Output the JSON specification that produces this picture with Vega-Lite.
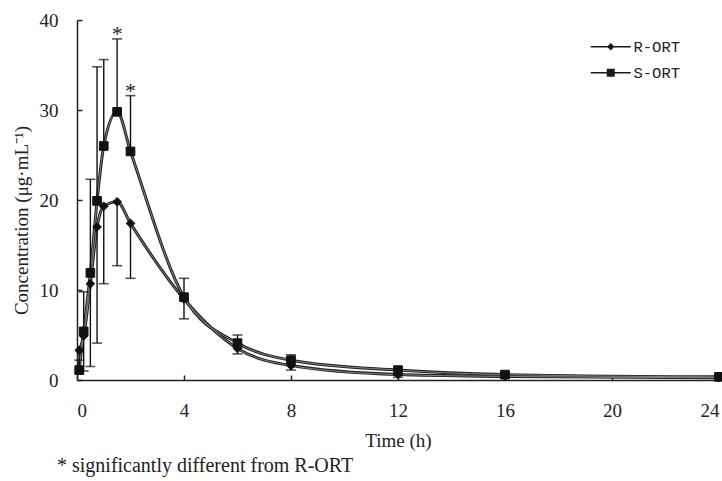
{
  "$schema": "https://vega.github.io/schema/vega-lite/v6.json",
  "width": 642,
  "height": 360,
  "autosize": "none",
  "padding": {"left": 77, "top": 20, "right": 3, "bottom": 101},
  "background": "white",
  "title": {
    "text": "* significantly different from R-ORT",
    "orient": "bottom",
    "anchor": "start",
    "frame": "group",
    "dx": -20,
    "offset": 6,
    "font": "Liberation Serif",
    "fontSize": 20,
    "fontWeight": "normal",
    "color": "#222"
  },
  "config": {
    "view": {"stroke": null},
    "axis": {
      "grid": false,
      "domainColor": "#222",
      "domainWidth": 1.5,
      "tickColor": "#222",
      "tickWidth": 1.5,
      "tickSize": -5,
      "labelFont": "Liberation Serif",
      "labelFontSize": 19,
      "labelColor": "#222",
      "titleFont": "Liberation Serif",
      "titleFontSize": 19,
      "titleFontWeight": "normal",
      "titleColor": "#222"
    }
  },
  "resolve": {"scale": {"shape": "independent"}, "legend": {"shape": "independent"}},
  "data": {
    "values": [
      {"time": 0.083, "drug": "R-ORT", "mean": 3.3, "lo": 0.8, "hi": 3.3, "cap": 0.8, "sig": ""},
      {"time": 0.25, "drug": "R-ORT", "mean": 4.9, "lo": 1.0, "hi": 4.9, "cap": 1.0, "sig": ""},
      {"time": 0.5, "drug": "R-ORT", "mean": 10.7, "lo": 1.5, "hi": 10.7, "cap": 1.5, "sig": ""},
      {"time": 0.75, "drug": "R-ORT", "mean": 17.0, "lo": 4.1, "hi": 17.0, "cap": 4.1, "sig": ""},
      {"time": 1, "drug": "R-ORT", "mean": 19.3, "lo": 10.7, "hi": 19.3, "cap": 10.7, "sig": ""},
      {"time": 1.5, "drug": "R-ORT", "mean": 19.8, "lo": 12.7, "hi": 19.8, "cap": 12.7, "sig": ""},
      {"time": 2, "drug": "R-ORT", "mean": 17.4, "lo": 11.3, "hi": 17.4, "cap": 11.3, "sig": ""},
      {"time": 4, "drug": "R-ORT", "mean": 9.0, "lo": 6.8, "hi": 9.0, "cap": 6.8, "sig": ""},
      {"time": 6, "drug": "R-ORT", "mean": 3.5, "lo": 2.9, "hi": 3.5, "cap": 2.9, "sig": ""},
      {"time": 8, "drug": "R-ORT", "mean": 1.6, "lo": 1.1, "hi": 1.6, "cap": 1.1, "sig": ""},
      {"time": 12, "drug": "R-ORT", "mean": 0.6, "lo": 0.3, "hi": 0.6, "cap": 0.3, "sig": ""},
      {"time": 16, "drug": "R-ORT", "mean": 0.4, "lo": 0.2, "hi": 0.4, "cap": 0.2, "sig": ""},
      {"time": 24, "drug": "R-ORT", "mean": 0.25, "lo": 0.1, "hi": 0.25, "cap": 0.1, "sig": ""},
      {"time": 0.083, "drug": "S-ORT", "mean": 1.1, "lo": 1.1, "hi": 2.2, "cap": 2.2, "sig": ""},
      {"time": 0.25, "drug": "S-ORT", "mean": 5.4, "lo": 5.4, "hi": 9.8, "cap": 9.8, "sig": ""},
      {"time": 0.5, "drug": "S-ORT", "mean": 11.9, "lo": 11.9, "hi": 22.3, "cap": 22.3, "sig": ""},
      {"time": 0.75, "drug": "S-ORT", "mean": 19.9, "lo": 19.9, "hi": 34.8, "cap": 34.8, "sig": ""},
      {"time": 1, "drug": "S-ORT", "mean": 26.0, "lo": 26.0, "hi": 35.6, "cap": 35.6, "sig": ""},
      {"time": 1.5, "drug": "S-ORT", "mean": 29.8, "lo": 29.8, "hi": 37.9, "cap": 37.9, "sig": "*"},
      {"time": 2, "drug": "S-ORT", "mean": 25.4, "lo": 25.4, "hi": 31.6, "cap": 31.6, "sig": "*"},
      {"time": 4, "drug": "S-ORT", "mean": 9.2, "lo": 9.2, "hi": 11.3, "cap": 11.3, "sig": ""},
      {"time": 6, "drug": "S-ORT", "mean": 4.1, "lo": 4.1, "hi": 5.0, "cap": 5.0, "sig": ""},
      {"time": 8, "drug": "S-ORT", "mean": 2.2, "lo": 2.2, "hi": 2.8, "cap": 2.8, "sig": ""},
      {"time": 12, "drug": "S-ORT", "mean": 1.1, "lo": 1.1, "hi": 1.4, "cap": 1.4, "sig": ""},
      {"time": 16, "drug": "S-ORT", "mean": 0.6, "lo": 0.6, "hi": 0.8, "cap": 0.8, "sig": ""},
      {"time": 24, "drug": "S-ORT", "mean": 0.35, "lo": 0.35, "hi": 0.5, "cap": 0.5, "sig": ""}
    ]
  },
  "encoding": {
    "x": {
      "field": "time",
      "type": "quantitative",
      "scale": {"domain": [0, 24], "nice": false, "zero": false},
      "axis": {
        "values": [0, 4, 8, 12, 16, 20, 24],
        "labelPadding": 26,
        "title": "Time (h)",
        "titleY": 60,
        "titleBaseline": "middle"
      }
    }
  },
  "layer": [
    {
      "mark": {"type": "line", "interpolate": "monotone", "stroke": "#222", "strokeWidth": 3},
      "encoding": {
        "y": {
          "field": "mean",
          "type": "quantitative",
          "scale": {"domain": [0, 40], "nice": false},
          "axis": {
            "values": [0, 10, 20, 30, 40],
            "labelPadding": 24,
            "title": "Concentration (μg·mL⁻¹)",
            "titleX": -56,
            "titleY": 200,
            "titleAlign": "center",
            "titleBaseline": "middle",
            "titleAngle": -90
          }
        },
        "detail": {"field": "drug"}
      }
    },
    {
      "mark": {"type": "line", "interpolate": "monotone", "stroke": "#999", "strokeWidth": 0.8},
      "encoding": {
        "y": {"field": "mean", "type": "quantitative"},
        "detail": {"field": "drug"}
      }
    },
    {
      "mark": {"type": "rule", "stroke": "#111", "strokeWidth": 1.4},
      "encoding": {
        "y": {"field": "lo", "type": "quantitative"},
        "y2": {"field": "hi"}
      }
    },
    {
      "mark": {"type": "tick", "orient": "horizontal", "size": 10, "thickness": 1.6, "color": "#111"},
      "encoding": {
        "y": {"field": "cap", "type": "quantitative"}
      }
    },
    {
      "mark": {"type": "point", "filled": true, "fill": "#111", "stroke": "#111", "strokeWidth": 1, "opacity": 1, "size": 75},
      "encoding": {
        "y": {"field": "mean", "type": "quantitative"},
        "shape": {
          "field": "drug",
          "type": "nominal",
          "scale": {"domain": ["R-ORT", "S-ORT"], "range": ["diamond", "square"]},
          "legend": null
        }
      }
    },
    {
      "transform": [{"filter": "false"}],
      "mark": {"type": "point", "filled": true, "fill": "#1a1a1a", "opacity": 1, "size": 100},
      "encoding": {
        "y": {"field": "mean", "type": "quantitative"},
        "shape": {
          "field": "drug",
          "type": "nominal",
          "scale": {
            "domain": ["R-ORT", "S-ORT"],
            "range": [
              "M-4,-0.17H4V0.17H-4Z M0,-0.75L0.75,0L0,0.75L-0.75,0Z",
              "M-4,-0.17H4V0.17H-4Z M-0.8,-0.8H0.8V0.8H-0.8Z"
            ]
          },
          "legend": {
            "title": null,
            "orient": "none",
            "legendX": 526,
            "legendY": 19,
            "labelFont": "Liberation Mono",
            "labelFontSize": 15.5,
            "labelColor": "#222",
            "labelOffset": 15,
            "symbolSize": 100,
            "rowPadding": 9,
            "symbolFillColor": "#1a1a1a",
            "symbolOpacity": 1
          }
        }
      }
    },
    {
      "transform": [{"filter": "datum.sig === '*'"}],
      "mark": {"type": "text", "font": "Liberation Serif", "fontSize": 22, "baseline": "middle", "dy": -5, "color": "#222"},
      "encoding": {
        "y": {"field": "hi", "type": "quantitative"},
        "text": {"field": "sig"}
      }
    }
  ]
}
